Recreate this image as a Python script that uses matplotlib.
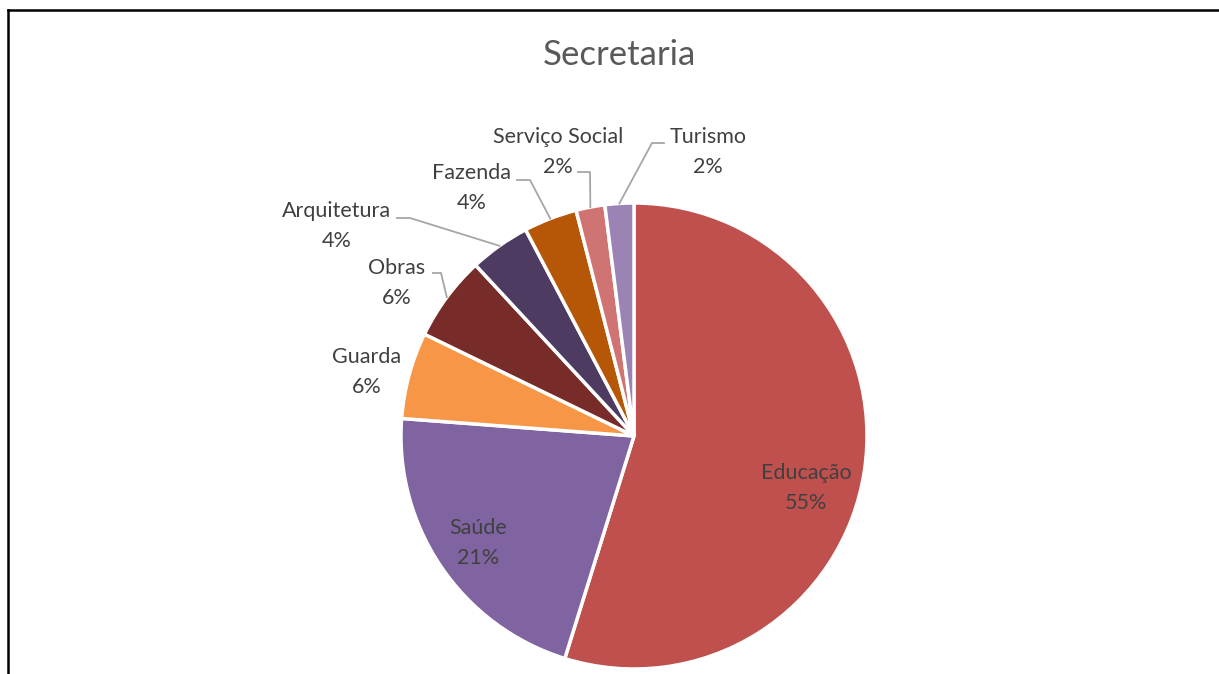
import numpy as np
import matplotlib
matplotlib.use("Agg")
from matplotlib import pyplot as plt
from matplotlib.lines import Line2D

# dados
secretarias = ["Educação", "Saúde", "Guarda", "Obras", "Arquitetura",
               "Fazenda", "Serviço Social", "Turismo"]
percentuais = [54.8, 21.4, 6.0, 5.9, 4.2, 3.7, 2.0, 2.0]
rotulos_pct = ["55%", "21%", "6%", "6%", "4%", "4%", "2%", "2%"]
cores = ["#C0504D", "#8064A2", "#F79646", "#772C2A", "#4D3B62",
         "#B65708", "#D07473", "#9B83B5"]

W, H = 1219, 674
CX, CY, R = 634, 436, 233

plt.rcParams['font.family'] = ['Lato', 'DejaVu Sans']

fig = plt.figure(figsize=(W / 100, H / 100), dpi=100)
ax = fig.add_axes([(CX - R) / W, (H - CY - R) / H, 2 * R / W, 2 * R / H])

wedges, _ = ax.pie(percentuais, colors=cores, startangle=90, counterclock=False,
                   radius=1, wedgeprops=dict(edgecolor="white", linewidth=2.5))
# pie() muda os limites, entao define depois
ax.set_xlim(-1, 1)
ax.set_ylim(-1, 1)
ax.axis("off")


def px(x, y):
    # pixel -> coordenadas dos dados
    return (x - CX) / R, (CY - y) / R


# posicao dos rotulos (pixels, centro do bloco de duas linhas)
pos_rotulo = {
    "Educação": (806, 488),
    "Saúde": (478, 543),
    "Guarda": (367, 372),
    "Obras": (397, 283),
    "Arquitetura": (337, 226),
    "Fazenda": (472, 188),
    "Serviço Social": (558, 152),
    "Turismo": (708, 152),
}
# linhas de chamada: inicio junto ao texto e cotovelo (pixels)
chamadas = {
    "Obras": ((433, 273), (441, 273)),
    "Arquitetura": ((397, 218), (410, 218)),
    "Fazenda": ((517, 180), (530, 180)),
    "Serviço Social": ((578, 172), (590, 172)),
    "Turismo": ((664, 143), (652, 143)),
}

for w, nome, pct in zip(wedges, secretarias, rotulos_pct):
    x, y = px(*pos_rotulo[nome])
    ax.text(x, y, nome + "\n" + pct, ha="center", va="center", fontsize=15.5,
            color="#404040", linespacing=1.6, clip_on=False)
    if nome in chamadas:
        (x0, y0), (x1, y1) = chamadas[nome]
        ang = np.deg2rad((w.theta1 + w.theta2) / 2)
        xs = [px(x0, y0)[0], px(x1, y1)[0], np.cos(ang)]
        ys = [px(x0, y0)[1], px(x1, y1)[1], np.sin(ang)]
        ax.plot(xs, ys, color="#A6A6A6", lw=1.3, clip_on=False)

fig.text(619 / W, 1 - 55 / H, "Secretaria", ha="center", va="center",
         fontsize=25, color="#595959")

# borda do grafico (recortada)
fig.add_artist(Line2D([8 / W, 1], [1 - 10 / H, 1 - 10 / H], color="black", lw=1.8,
                      transform=fig.transFigure))
fig.add_artist(Line2D([8 / W, 8 / W], [0, 1 - 10 / H], color="black", lw=1.8,
                      transform=fig.transFigure))

fig.savefig("out.png", dpi=100)
